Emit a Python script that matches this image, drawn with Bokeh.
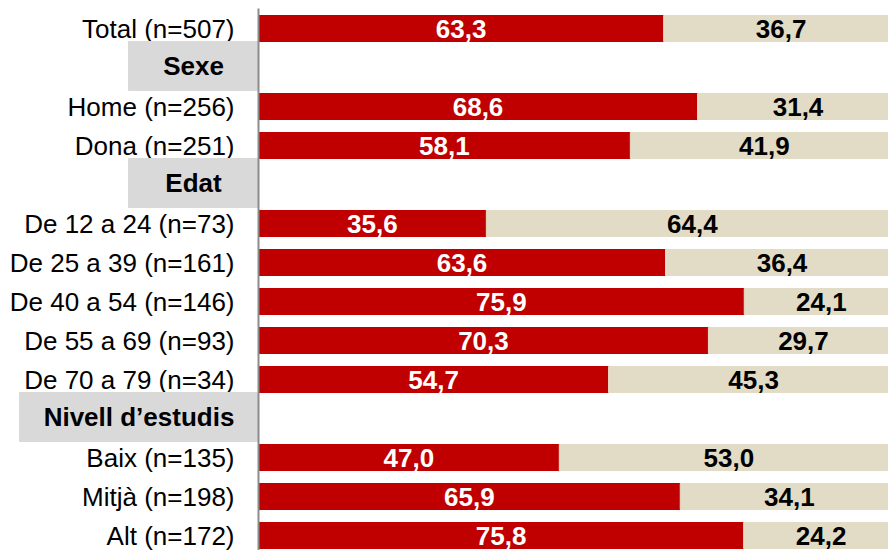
from bokeh.plotting import figure
from bokeh.models import ColumnDataSource, Range1d
from bokeh.core.properties import value
from bokeh.embed import file_html
from bokeh.resources import INLINE

# Rows from top to bottom (headers have no values)
row_labels = ["Total (n=507)", "Sexe", "Home (n=256)", "Dona (n=251)", "Edat",
              "De 12 a 24 (n=73)", "De 25 a 39 (n=161)", "De 40 a 54 (n=146)",
              "De 55 a 69 (n=93)", "De 70 a 79 (n=34)", "Nivell d\u2019estudis",
              "Baix (n=135)", "Mitjà (n=198)", "Alt (n=172)"]
is_header = [False, True, False, False, True, False, False, False, False, False,
             True, False, False, False]
yes_values = [63.3, None, 68.6, 58.1, None, 35.6, 63.6, 75.9, 70.3, 54.7, None, 47.0, 65.9, 75.8]
no_values = [36.7, None, 31.4, 41.9, None, 64.4, 36.4, 24.1, 29.7, 45.3, None, 53.0, 34.1, 24.2]

RED = "#C00000"
BEIGE = "#E2DCC6"
GREY = "#D9D9D9"
FONT = "Liberation Sans"

px = 6.4    # pixels per percentage unit
row = 39.0  # pixels per row
x_start = -258 / px
x_end = 630 / px

p = figure(width=888, height=550, output_backend="svg", toolbar_location=None,
           x_range=Range1d(x_start, x_end),
           y_range=Range1d(13 + 15 / row, -28 / row),
           min_border_left=0, min_border_right=0, min_border_top=0, min_border_bottom=0)
p.axis.visible = False
p.grid.visible = False
p.outline_line_color = None

bar_y, bar_yes, bar_no, yes_txt, no_txt = [], [], [], [], []
for i, (a, b) in enumerate(zip(yes_values, no_values)):
    if a is None:
        continue
    bar_y.append(i)
    bar_yes.append(a)
    bar_no.append(b)
    yes_txt.append(f"{a:.1f}".replace(".", ","))
    no_txt.append(f"{b:.1f}".replace(".", ","))

src = ColumnDataSource(dict(
    y=bar_y, yes=bar_yes, no=bar_no,
    zero=[0] * len(bar_y),
    total=[a + b for a, b in zip(bar_yes, bar_no)],
    yes_mid=[a / 2 for a in bar_yes],
    no_mid=[a + b / 2 for a, b in zip(bar_yes, bar_no)],
    yes_txt=yes_txt, no_txt=no_txt))

p.hbar(y="y", left="zero", right="yes", height=26 / row, color=RED, source=src)
p.hbar(y="y", left="yes", right="total", height=26 / row, color=BEIGE, source=src)

p.text(x="yes_mid", y="y", text="yes_txt", source=src, text_color="white",
       text_font=value(FONT), text_font_style="bold", text_font_size="26px",
       text_align="center", text_baseline="middle")
p.text(x="no_mid", y="y", text="no_txt", source=src, text_color="black",
       text_font=value(FONT), text_font_style="bold", text_font_size="26px",
       text_align="center", text_baseline="middle")

# Category labels
cat_y = [i for i, h in enumerate(is_header) if not h]
cat_t = [row_labels[i] for i in cat_y]
p.text(x=[-24 / px] * len(cat_y), y=cat_y, text=cat_t, text_color="black",
       text_font=value(FONT), text_font_size="26px",
       text_align="right", text_baseline="middle")

# Header boxes
hdr_y = [i for i, h in enumerate(is_header) if h]
hdr_t = [row_labels[i] for i in hdr_y]
hdr_left = [-130 / px if len(t) < 10 else -239 / px for t in hdr_t]
p.quad(left=hdr_left, right=[-1 / px] * len(hdr_y),
       top=[y - 26 / row for y in hdr_y], bottom=[y + 23 / row for y in hdr_y],
       color=GREY)
p.text(x=[l / 2 for l in hdr_left], y=[y - 1.5 / row for y in hdr_y], text=hdr_t,
       text_color="black", text_font=value(FONT), text_font_style="bold",
       text_font_size="26px", text_align="center", text_baseline="middle")

# Vertical axis line
p.segment(x0=[0], x1=[0], y0=[-20 / row], y1=[13 + 15 / row],
          line_color="#8C8C8C", line_width=2)

open("out.html", "w").write(file_html(p, INLINE))
